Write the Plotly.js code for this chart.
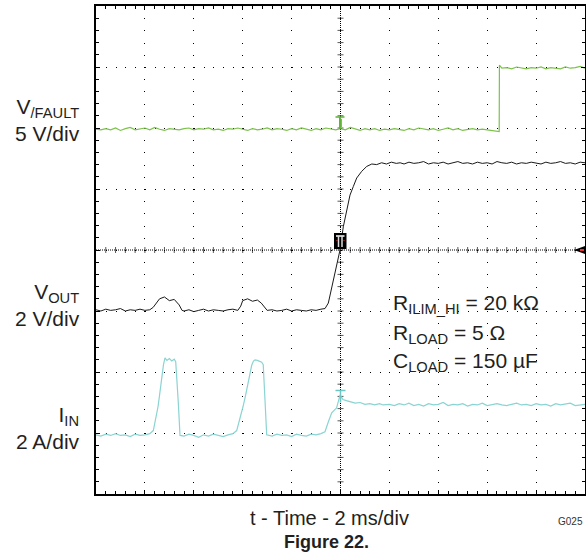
<!DOCTYPE html>
<html><head><meta charset="utf-8">
<script src="https://cdn.plot.ly/plotly-3.0.1.min.js"></script>
<style>html,body{margin:0;padding:0;background:#fff}#chart{width:586px;height:556px}</style>
</head><body><div id="chart"></div>
<script>
// time in divisions (2 ms/div), amplitude in divisions (8 div screen)
const faultT = [0,0.1,0.2,0.3,0.4,0.5,0.6,0.7,0.8,0.9,1,1.1,1.2,1.3,1.4,1.5,1.6,1.7,1.8,1.9,2,2.1,2.2,2.3,2.4,2.5,2.6,2.7,2.8,2.9,3,3.1,3.2,3.3,3.4,3.5,3.6,3.7,3.8,3.9,4,4.1,4.2,4.3,4.4,4.5,4.6,4.7,4.8,4.9,5,5.1,5.2,5.3,5.4,5.5,5.6,5.7,5.8,5.9,6,6.1,6.2,6.3,6.4,6.5,6.6,6.7,6.8,6.9,7,7.1,7.2,7.3,7.4,7.5,7.6,7.7,7.8,7.9,8,8.1,8.2,8.245,8.25,8.3,8.4,8.5,8.6,8.7,8.8,8.9,9,9.1,9.2,9.3,9.4,9.5,9.6,9.7,9.8,9.9,10];
const faultV = [5.98,5.97,5.99,5.97,6.00,5.96,5.99,6.01,5.97,5.98,
6.00,5.97,6.01,5.98,5.96,5.99,5.98,5.97,5.99,6.00,
5.97,5.99,5.98,6.00,5.97,5.98,5.96,5.99,5.98,6.00,
5.98,5.96,5.99,5.97,5.98,6.00,5.97,5.99,5.98,5.96,
5.99,5.97,6.00,5.98,5.96,5.99,5.97,6.00,5.98,5.97,
5.99,5.97,6.01,5.98,5.96,5.99,5.97,5.99,5.96,5.98,
5.97,5.99,5.98,5.96,5.99,5.97,6.00,5.98,5.97,5.99,
5.96,5.98,6.00,5.97,5.99,5.96,5.98,5.99,5.97,5.98,
5.97,5.96,5.95,5.94,7.03,
6.98,6.99,6.97,7.00,6.98,6.97,6.99,6.98,7.00,6.97,6.99,6.98,6.97,7.00,6.98,6.99,7.01,6.98];

const voutT = [0,0.1,0.2,0.3,0.4,0.5,0.6,0.7,0.8,0.9,1,1.1,
1.17,1.22,1.3,1.4,1.5,1.6,1.7,1.76,
1.8,1.9,2,2.1,2.2,2.3,2.4,2.5,2.6,2.7,2.8,2.9,
2.96,3.0,3.1,3.2,3.3,3.38,3.45,
3.5,3.6,3.7,3.8,3.9,4,4.1,4.2,4.3,4.4,4.5,4.6,
4.683,4.751,4.82,4.888,4.955,4.99,5.057,5.127,5.194,5.262,5.331,5.434,5.536,5.64,5.74,5.84,5.94,6.04,6.14,6.22,
6.3,6.4,6.5,6.6,6.7,6.8,6.9,7,7.1,7.2,7.3,7.4,7.5,7.6,7.7,7.8,7.9,8,8.1,8.2,8.3,8.4,8.5,8.6,8.7,8.8,8.9,9,9.1,9.2,9.3,9.4,9.5,9.6,9.7,9.8,9.9,10];
const voutV = [3.02,3.00,3.03,3.01,3.02,3.04,3.00,3.02,3.01,3.03,3.01,3.02,
3.06,3.12,3.20,3.23,3.17,3.19,3.10,3.01,
3.00,3.02,2.99,3.01,3.03,3.00,3.02,3.01,3.00,3.02,3.03,3.01,
3.08,3.17,3.20,3.16,3.18,3.13,3.06,
3.01,3.02,3.00,3.01,3.03,3.00,3.02,3.01,3.00,3.02,3.01,3.03,
3.04,3.13,3.39,3.61,3.89,4.00,4.38,4.66,4.90,5.04,5.18,5.29,5.37,5.41,5.40,5.43,5.41,5.44,5.42,5.43,
5.41,5.44,5.42,5.43,5.45,5.41,5.43,5.42,5.44,5.41,5.43,5.45,5.42,5.43,5.41,5.44,5.42,5.43,5.41,5.45,5.43,5.42,5.44,5.41,5.43,5.42,5.44,5.43,5.41,5.44,5.42,5.43,5.45,5.42,5.43,5.41,5.44,5.43];

const iinT = [0,0.1,0.2,0.3,0.4,0.5,0.6,0.7,0.8,0.9,1,1.1,
1.172,1.22,1.268,1.30,1.343,1.38,1.411,1.45,1.5,1.55,1.6,1.63,1.683,1.718,
1.8,1.9,2,2.1,2.2,2.3,2.4,2.5,2.6,2.7,2.8,
2.877,2.94,3.006,3.06,3.108,3.15,3.184,3.22,3.252,3.30,3.35,3.389,3.42,3.456,3.491,
3.6,3.7,3.8,3.9,4,4.1,4.2,4.3,4.4,4.5,4.6,
4.683,4.75,4.82,4.88,4.92,4.99,5.05,5.12,5.194,5.3,5.4,5.5,5.6,5.7,5.8,5.869,
6,6.1,6.2,6.3,6.4,6.5,6.6,6.7,6.8,6.9,7,7.1,7.2,7.3,7.4,7.5,7.6,7.7,7.8,7.9,8,8.1,8.2,8.3,8.4,8.5,8.6,8.7,8.8,8.9,9,9.1,9.2,9.3,9.4,9.5,9.6,9.7,9.8,9.9,10];
const iinV = [0.97,0.95,0.98,0.96,0.99,0.96,0.97,0.94,0.98,0.96,0.97,0.99,
1.04,1.22,1.43,1.62,1.92,2.12,2.23,2.19,2.22,2.18,2.21,2.17,1.50,0.96,
0.95,0.98,0.96,0.93,0.97,0.95,0.98,0.96,0.94,0.97,0.99,
1.04,1.22,1.43,1.62,1.82,1.98,2.11,2.18,2.20,2.19,2.18,2.16,2.12,1.50,0.97,
0.95,0.98,0.96,0.97,0.94,0.98,0.96,0.95,0.98,0.97,0.99,
1.02,1.18,1.33,1.38,1.41,1.62,1.55,1.53,1.51,1.49,1.50,1.47,1.48,1.46,1.48,1.46,
1.47,1.45,1.48,1.46,1.49,1.45,1.47,1.44,1.48,1.46,1.47,1.50,1.45,1.47,1.46,1.48,1.44,1.47,1.46,1.49,1.45,1.47,1.48,1.46,1.45,1.47,1.49,1.46,1.47,1.45,1.48,1.46,1.47,1.44,1.48,1.46,1.47,1.49,1.45,1.46,1.47];

const channelLabels = [
  {text:'V<sub>/FAULT</sub><br>5 V/div', y:6.13},
  {text:'V<sub>OUT</sub><br>2 V/div', y:3.1},
  {text:'I<sub>IN</sub><br>2 A/div', y:1.09}
];
const condLabels = [
  {text:'R<sub>ILIM_HI</sub> = 20 kΩ', y:3.12},
  {text:'R<sub>LOAD</sub> = 5 Ω', y:2.63},
  {text:'C<sub>LOAD</sub> = 150 µF', y:2.16}
];
const xTitle = 't - Time - 2 ms/div';
const figTitle = 'Figure 22.';
const figCode = 'G025';

const TXT = '#231f20';
const FONT = 'Liberation Sans, Arial, sans-serif';

const traces = [
  {x: faultT, y: faultV, type:'scatter', mode:'lines', line:{color:'#7cc24c', width:1.2}, hoverinfo:'skip'},
  {x: voutT, y: voutV, type:'scatter', mode:'lines', line:{color:'#1a1a1a', width:1}, hoverinfo:'skip'},
  {x: iinT, y: iinV, type:'scatter', mode:'lines', line:{color:'#8ad4d2', width:1.2}, hoverinfo:'skip'}
];

// decorations: centre cross-hair with fine ticks, scope markers
const shapes = [];
shapes.push({type:'line', xref:'x', yref:'y', x0:5, x1:5, y0:0, y1:8, line:{color:'#000', width:1, dash:'1px,1px'}, layer:'below'});
shapes.push({type:'line', xref:'x', yref:'y', x0:0, x1:10, y0:4, y1:4, line:{color:'#000', width:1, dash:'1px,1px'}, layer:'below'});
for (let k = 1; k < 50; k++) {
  shapes.push({type:'line', xref:'x', yref:'y', ysizemode:'pixel', yanchor:4, x0:k/5, x1:k/5, y0:-3, y1:3, line:{color:'#5a5a5a', width:1}, layer:'below'});
}
for (let k = 1; k < 40; k++) {
  shapes.push({type:'line', xref:'x', yref:'y', xsizemode:'pixel', xanchor:5, x0:-3, x1:3, y0:k/5, y1:k/5, line:{color:'#5a5a5a', width:1}, layer:'below'});
}
// trigger box
shapes.push({type:'rect', xref:'x', yref:'y', xsizemode:'pixel', ysizemode:'pixel', xanchor:5, yanchor:4, x0:-6.5, x1:6, y0:1, y1:17, fillcolor:'#000', line:{width:0}});
shapes.push({type:'line', xref:'x', yref:'y', xsizemode:'pixel', ysizemode:'pixel', xanchor:5, yanchor:4, x0:-4.5, x1:4, y0:14, y1:14, line:{color:'#fff', width:1.5}});
shapes.push({type:'line', xref:'x', yref:'y', xsizemode:'pixel', ysizemode:'pixel', xanchor:5, yanchor:4, x0:-2, x1:-2, y0:14, y1:3, line:{color:'#ddd', width:1.5}});
shapes.push({type:'line', xref:'x', yref:'y', xsizemode:'pixel', ysizemode:'pixel', xanchor:5, yanchor:4, x0:1.5, x1:1.5, y0:14, y1:3, line:{color:'#ddd', width:1.5}});
shapes.push({type:'rect', xref:'x', yref:'y', xsizemode:'pixel', ysizemode:'pixel', xanchor:5, yanchor:4, x0:-4, x1:-3, y0:9, y1:10, fillcolor:'#e33', line:{width:0}});
shapes.push({type:'rect', xref:'x', yref:'y', xsizemode:'pixel', ysizemode:'pixel', xanchor:5, yanchor:4, x0:3, x1:4, y0:9, y1:10, fillcolor:'#e33', line:{width:0}});
// /FAULT channel marker
shapes.push({type:'line', xref:'x', yref:'y', xsizemode:'pixel', ysizemode:'pixel', xanchor:5, yanchor:6, x0:-5, x1:4, y0:11, y1:11, line:{color:'#5fb336', width:1.5}});
shapes.push({type:'line', xref:'x', yref:'y', xsizemode:'pixel', ysizemode:'pixel', xanchor:5, yanchor:6, x0:-0.5, x1:-0.5, y0:11, y1:-1, line:{color:'#5fb336', width:2}});
shapes.push({type:'line', xref:'x', yref:'y', xsizemode:'pixel', ysizemode:'pixel', xanchor:5, yanchor:6, x0:1, x1:1, y0:9, y1:1, line:{color:'#f08a30', width:1}});
// I_IN channel marker
shapes.push({type:'line', xref:'x', yref:'y', xsizemode:'pixel', ysizemode:'pixel', xanchor:5, yanchor:1.5, x0:-5, x1:5, y0:12, y1:12, line:{color:'#6cc7c4', width:1.5}});
shapes.push({type:'line', xref:'x', yref:'y', xsizemode:'pixel', ysizemode:'pixel', xanchor:5, yanchor:1.5, x0:0, x1:0, y0:12, y1:0, line:{color:'#6cc7c4', width:1.5}});
// right-edge trigger level arrow
shapes.push({type:'path', xref:'x', yref:'y', xsizemode:'pixel', ysizemode:'pixel', xanchor:10, yanchor:4, path:'M-11,0 L0,4 L0,-4 Z', fillcolor:'#000', line:{width:0}});
shapes.push({type:'rect', xref:'x', yref:'y', xsizemode:'pixel', ysizemode:'pixel', xanchor:10, yanchor:4, x0:-5, x1:-1, y0:-1, y1:1, fillcolor:'#e33', line:{width:0}});

const annotations = [];
channelLabels.forEach(l => annotations.push({text:l.text, xref:'paper', yref:'y', x:-0.0286, y:l.y, xanchor:'right', yanchor:'middle', align:'right', showarrow:false, font:{family:FONT, size:21, color:TXT}}));
condLabels.forEach(l => annotations.push({text:l.text, xref:'x', yref:'y', x:6.03, y:l.y, xanchor:'left', yanchor:'middle', align:'left', showarrow:false, font:{family:FONT, size:21, color:TXT}}));
annotations.push({text:xTitle, xref:'paper', yref:'paper', x:0.4765, y:0, xanchor:'center', yanchor:'top', yshift:-11, showarrow:false, font:{family:FONT, size:20, color:TXT}});
annotations.push({text:'<b>'+figTitle+'</b>', xref:'paper', yref:'paper', x:0.472, y:0, xanchor:'center', yanchor:'top', yshift:-36, showarrow:false, font:{family:FONT, size:18, color:TXT}});
annotations.push({text:figCode, xref:'paper', yref:'paper', x:1, y:0, xanchor:'right', yanchor:'top', yshift:-20, showarrow:false, font:{family:FONT, size:10, color:'#333'}});

const axisCommon = {showticklabels:false, showline:true, linewidth:2, linecolor:'#000', mirror:'allticks', ticks:'inside', ticklen:4, tickwidth:1, tickcolor:'#000', showgrid:true, gridcolor:'#000', gridwidth:1, zeroline:false, fixedrange:true};
const layout = {
  width:586, height:556,
  margin:{l:96, r:1, t:6, b:62, pad:0},
  paper_bgcolor:'#fff', plot_bgcolor:'#fff',
  showlegend:false,
  xaxis: Object.assign({}, axisCommon, {range:[0,10], tick0:0, dtick:1, griddash:'1px,11.2px', minor:{tick0:0, dtick:0.2, ticks:'inside', ticklen:3, tickwidth:1, tickcolor:'#000', showgrid:false}}),
  yaxis: Object.assign({}, axisCommon, {range:[0,8], tick0:0, dtick:1, griddash:'1px,8.78px', minor:{tick0:0, dtick:0.2, ticks:'inside', ticklen:3, tickwidth:1, tickcolor:'#000', showgrid:false}}),
  shapes: shapes,
  annotations: annotations
};
Plotly.newPlot('chart', traces, layout, {displayModeBar:false, staticPlot:true});
</script></body></html>
